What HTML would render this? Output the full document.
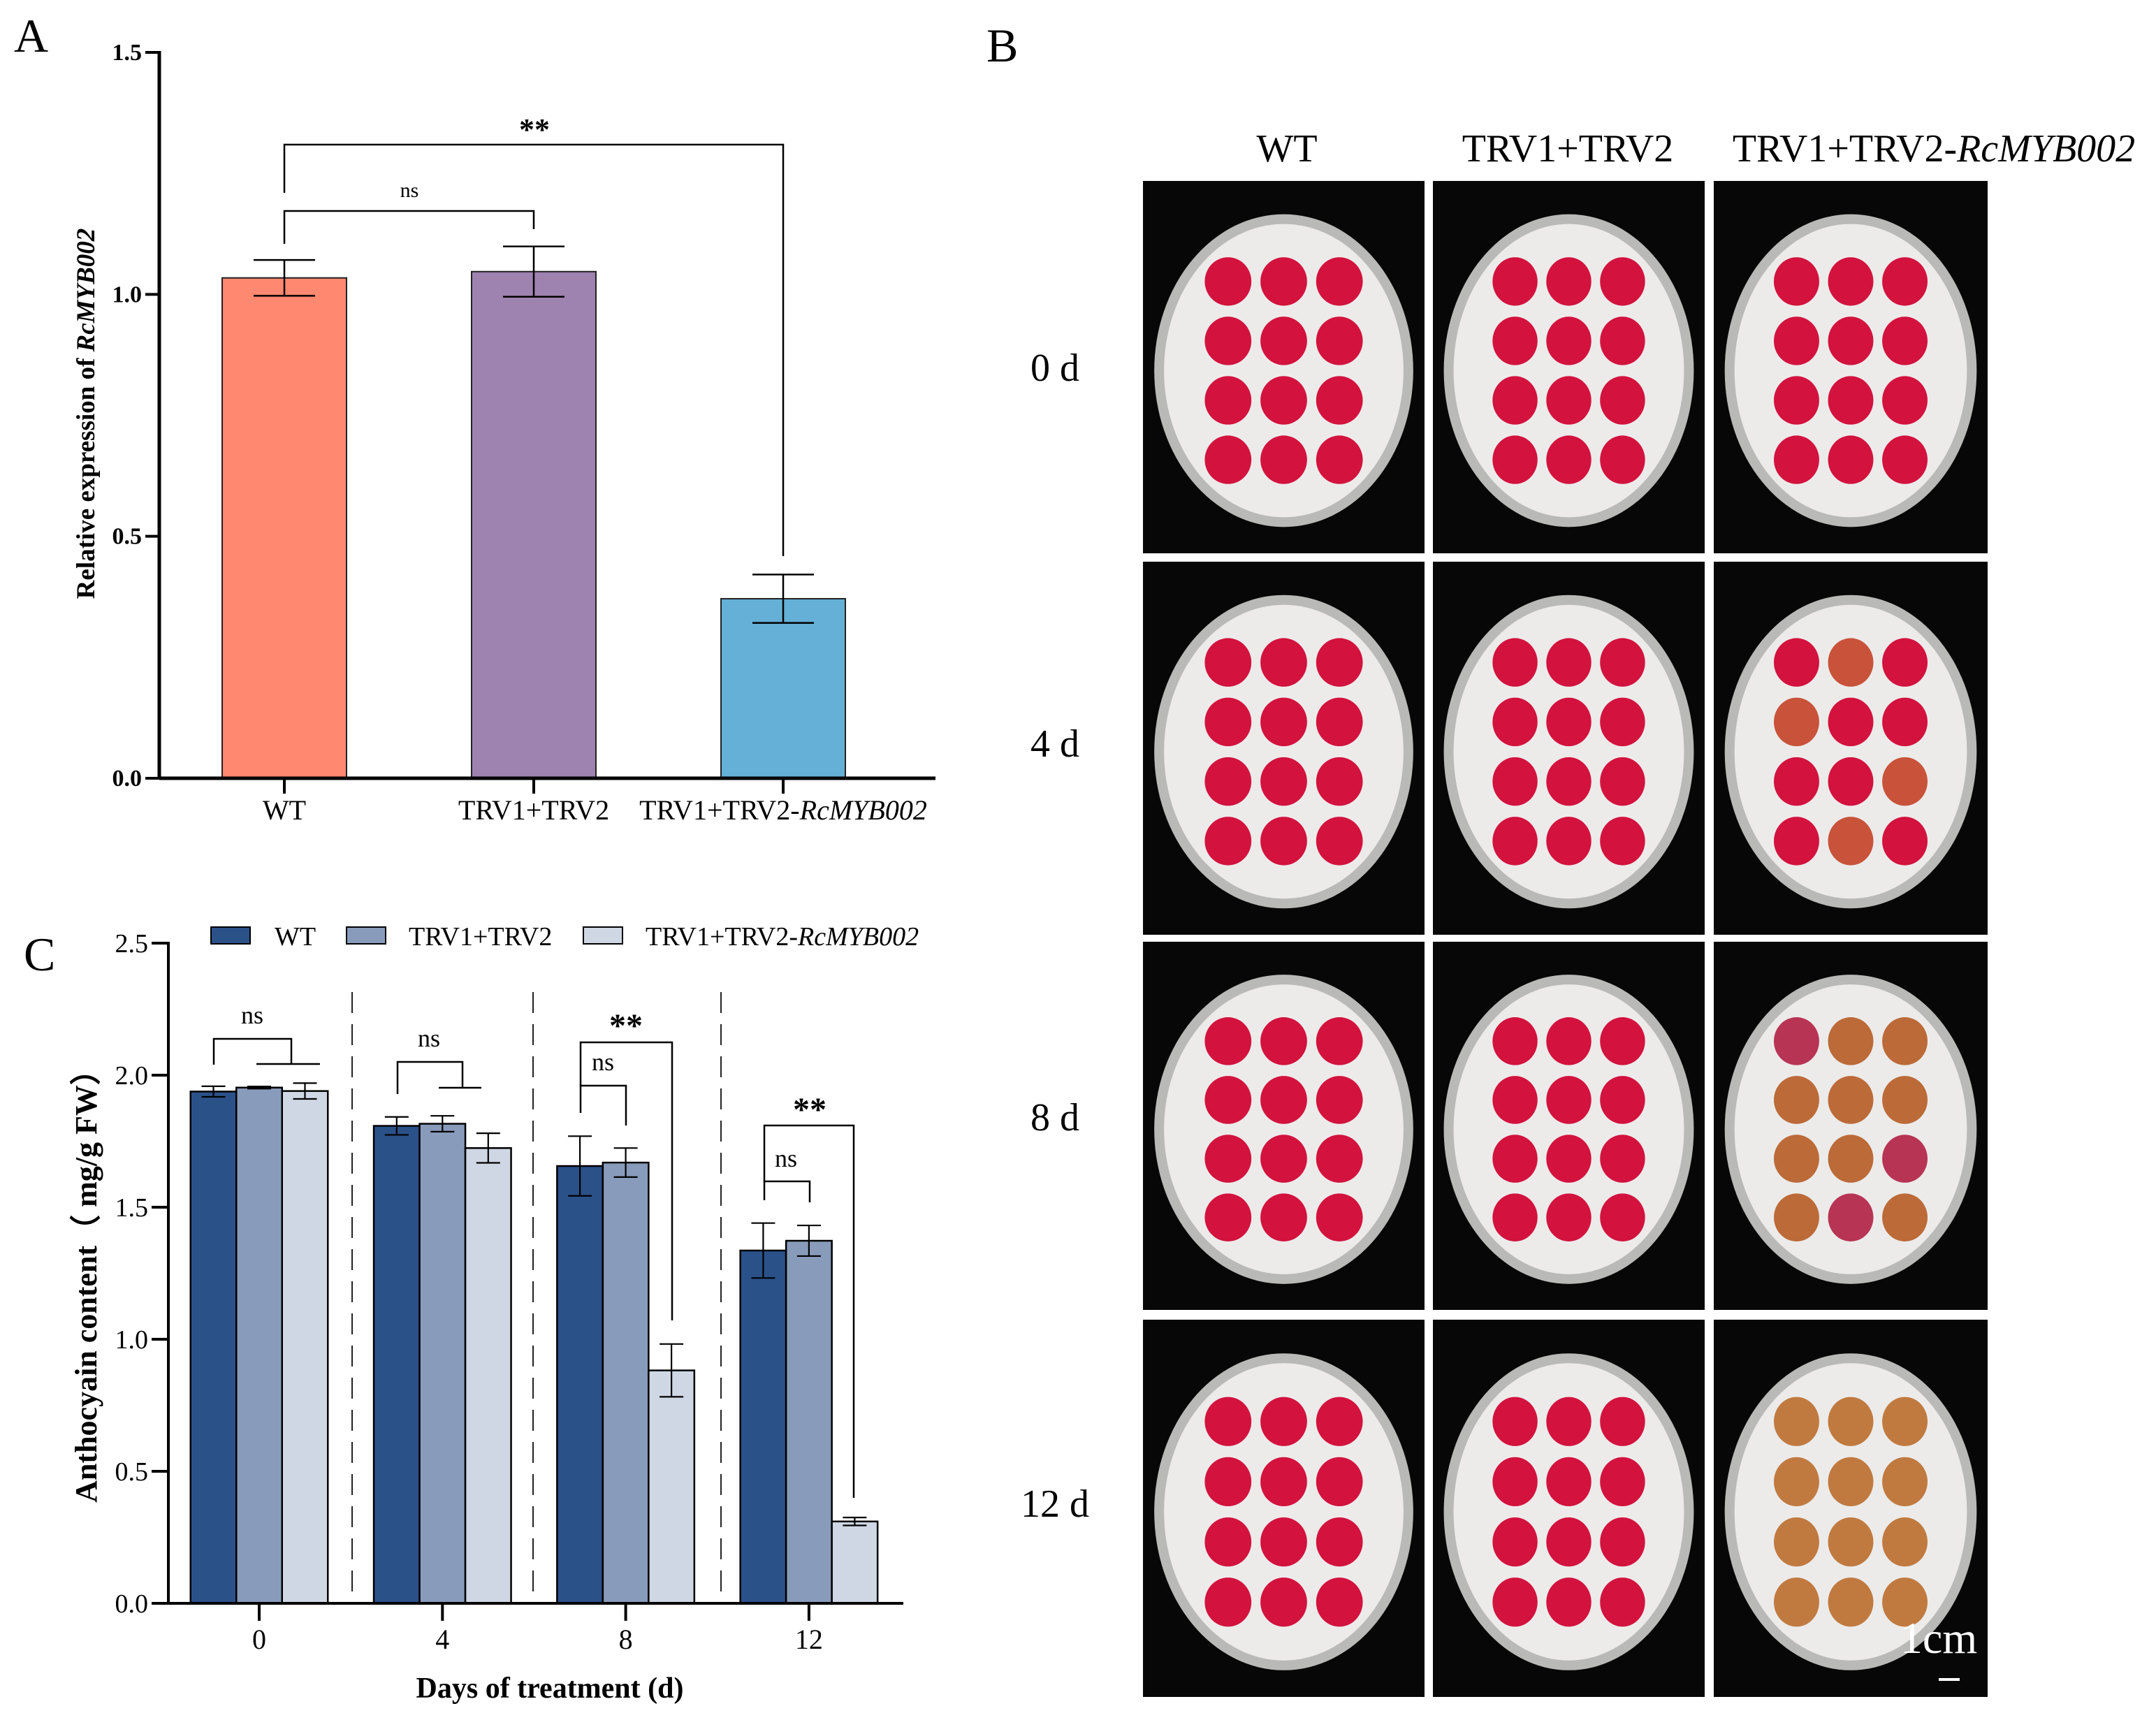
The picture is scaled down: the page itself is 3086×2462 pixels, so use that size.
<!DOCTYPE html>
<html><head><meta charset="utf-8"><style>
html,body{margin:0;padding:0;background:#fff}
svg{display:block}
text{font-family:"Liberation Serif",serif;fill:#000}
</style></head><body>
<svg id="fig" width="3086" height="2462" viewBox="0 0 3086 2462" xmlns="http://www.w3.org/2000/svg">
<g id="pa"></g>
<g id="pc"></g>
<g id="pb"></g>
</svg>
<script>
// Panel A data
const aCategories = ["WT", "TRV1+TRV2", "TRV1+TRV2-"];
const aValues = [1.034, 1.047, 0.371];
const aErrors = [0.037, 0.052, 0.05];
const aTicks = ["0.0", "0.5", "1.0", "1.5"];
// Panel C data
const cDays = ["0", "4", "8", "12"];
const cWT = [1.938, 1.808, 1.656, 1.336];
const cWTerr = [0.02, 0.034, 0.113, 0.104];
const cTRV = [1.953, 1.816, 1.669, 1.373];
const cTRVerr = [0.004, 0.03, 0.055, 0.058];
const cRc = [1.94, 1.724, 0.882, 0.31];
const cRcErr = [0.03, 0.056, 0.1, 0.015];
const cTicks = ["0.0", "0.5", "1.0", "1.5", "2.0", "2.5"];

const NS = "http://www.w3.org/2000/svg";
function mk(parent, tag, attrs, txt) {
  const e = document.createElementNS(NS, tag);
  for (const k in attrs) e.setAttribute(k, attrs[k]);
  if (txt !== undefined) e.textContent = txt;
  parent.appendChild(e);
  return e;
}
function line(p, x1, y1, x2, y2, w) {
  const e = mk(p, "line", {x1, y1, x2, y2, stroke: "#000", "stroke-width": w || 2.5});
  
  
  return e;
}
function poly(p, pts, w) {
  const e = mk(p, "polyline", {points: pts.map(q => q.join(",")).join(" "), fill: "none", stroke: "#000", "stroke-width": w || 2.5});
  
  
  return e;
}
function txt(p, x, y, s, attrs, name) {
  const e = mk(p, "text", Object.assign({x, y}, attrs || {}), s);
  
  
  return e;
}

// ---------- Panel A ----------
const pa = document.getElementById("pa");
const aY0 = 1114, aY15 = 75, aXL = 228, aXR = 1339;
const ay = v => aY0 - (aY0 - aY15) * v / 1.5;
const aCenters = [407, 764, 1121];
const aBW = 178;
const aColors = ["#FF8870", "#9E82B0", "#64B0D6"];
txt(pa, 20, 74, "A", {"font-size": 68}, "panel-a-label");
aValues.forEach((v, i) => {
  const r = mk(pa, "rect", {x: aCenters[i] - aBW / 2, y: ay(v), width: aBW, height: ay(0) - ay(v), fill: aColors[i], stroke: "#222", "stroke-width": 2});
  
  
  const c = aCenters[i];
  line(pa, c, ay(v + aErrors[i]), c, ay(v - aErrors[i]), 2.5);
  line(pa, c - 44, ay(v + aErrors[i]), c + 44, ay(v + aErrors[i]), 2.5);
  line(pa, c - 44, ay(v - aErrors[i]), c + 44, ay(v - aErrors[i]), 2.5);
});
line(pa, aXL, ay(1.5) - 2, aXL, aY0 + 2, 5);
line(pa, aXL, aY0, aXR, aY0, 5);
aTicks.forEach((t, i) => {
  const v = i * 0.5;
  line(pa, 208, ay(v), aXL, ay(v), 4);
  txt(pa, 203, ay(v) + 11, t, {"font-size": 34, "font-weight": "bold", "text-anchor": "end"}, "y-tick-label");
});
aCategories.forEach((c, i) => {
  line(pa, aCenters[i], aY0, aCenters[i], aY0 + 22, 4);
});
txt(pa, 407, 1173, "WT", {"font-size": 40, "text-anchor": "middle"}, "x-tick-label");
txt(pa, 764, 1173, "TRV1+TRV2", {"font-size": 40, "text-anchor": "middle"}, "x-tick-label");
const xl3 = txt(pa, 1121, 1173, "", {"font-size": 40, "text-anchor": "middle"}, "x-tick-label");
mk(xl3, "tspan", {}, aCategories[2]);
mk(xl3, "tspan", {"font-style": "italic"}, "RcMYB002");
const ayl = txt(pa, 0, 0, "", {"font-size": 37, "font-weight": "bold", "text-anchor": "middle", transform: "translate(135,592) rotate(-90)"}, "y-axis-title");
mk(ayl, "tspan", {}, "Relative expression of ");
mk(ayl, "tspan", {"font-style": "italic"}, "RcMYB002");
poly(pa, [[407, 276], [407, 207], [1121, 207], [1121, 796]]);
poly(pa, [[407, 349], [407, 302], [764, 302], [764, 328]]);
txt(pa, 765, 200, "**", {"font-size": 44, "font-weight": "bold", "text-anchor": "middle"}, "significance-star");
txt(pa, 586, 282, "ns", {"font-size": 30, "text-anchor": "middle"}, "significance-ns");

// ---------- Panel C ----------
const pc = document.getElementById("pc");
const cY0 = 2295, cY25 = 1350, cXL = 241, cXR = 1293;
const cy = v => cY0 - (cY0 - cY25) * v / 2.5;
const gx = i => 371 + i * 262.3;
const cBW = 65.5;
const series = [[cWT, cWTerr, "#2B5189"], [cTRV, cTRVerr, "#889BBB"], [cRc, cRcErr, "#CFD7E4"]];
txt(pc, 34, 1389, "C", {"font-size": 68}, "panel-c-label");
cDays.forEach((d, g) => {
  series.forEach((s, k) => {
    const v = s[0][g], e = s[1][g];
    const cx = gx(g) + (k - 1) * cBW;
    const r = mk(pc, "rect", {x: cx - cBW / 2, y: cy(v), width: cBW, height: cy(0) - cy(v), fill: s[2], stroke: "#000", "stroke-width": 2.5});
    
    
    line(pc, cx, cy(v + e), cx, cy(v - e), 2.2);
    line(pc, cx - 17, cy(v + e), cx + 17, cy(v + e), 2.2);
    line(pc, cx - 17, cy(v - e), cx + 17, cy(v - e), 2.2);
  });
  line(pc, gx(g), cY0, gx(g), cY0 + 25, 4);
  txt(pc, gx(g), 2360, d, {"font-size": 40, "text-anchor": "middle"}, "x-tick-label");
});
[504, 763, 1032].forEach(x => {
  const l = mk(pc, "line", {x1: x, y1: 1420, x2: x, y2: 2290, stroke: "#222", "stroke-width": 2, "stroke-dasharray": "30 16"});
  
  
});
line(pc, cXL, cy(2.5) - 2, cXL, cY0 + 2, 4);
line(pc, cXL, cY0, cXR, cY0, 4);
cTicks.forEach((t, i) => {
  const v = i * 0.5;
  line(pc, 217, cy(v), cXL, cy(v), 4);
  txt(pc, 212, cy(v) + 13, t, {"font-size": 38, "text-anchor": "end"}, "y-tick-label");
});
const cyl = txt(pc, 0, 0, "Anthocyain content（ mg/g FW）", {"font-size": 44, "font-weight": "bold", "text-anchor": "middle", transform: "translate(138,1830) rotate(-90)", "font-family": "Liberation Serif, Noto Serif CJK SC, serif"}, "y-axis-title");
txt(pc, 787, 2430, "Days of treatment (d)", {"font-size": 42, "font-weight": "bold", "text-anchor": "middle"}, "x-axis-title");
// legend
const lg = mk(pc, "g", {});


[[302, 393, "WT", "#2B5189"], [496, 585, "TRV1+TRV2", "#889BBB"], [835, 924, "TRV1+TRV2-", "#CFD7E4"]].forEach((L, i) => {
  const r = mk(lg, "rect", {x: L[0], y: 1327, width: 56, height: 24, fill: L[3], stroke: "#000", "stroke-width": 2});
  
  
  const t = txt(lg, L[1], 1353, "", {"font-size": 38}, "legend-entry");
  mk(t, "tspan", {}, L[2]);
  if (i === 2) mk(t, "tspan", {"font-style": "italic"}, "RcMYB002");
});
// brackets
poly(pc, [[306, 1524], [306, 1487], [417, 1487], [417, 1523]]);
line(pc, 367, 1523, 458, 1523);
txt(pc, 361, 1465, "ns", {"font-size": 36, "text-anchor": "middle"}, "significance-ns");
poly(pc, [[569, 1566], [569, 1520], [662, 1520], [662, 1557]]);
line(pc, 628, 1557, 689, 1557);
txt(pc, 614, 1498, "ns", {"font-size": 36, "text-anchor": "middle"}, "significance-ns");
poly(pc, [[831, 1593], [831, 1554], [896, 1554], [896, 1611]]);
poly(pc, [[831, 1554], [831, 1492], [962, 1492], [962, 1890]]);
txt(pc, 896, 1484, "**", {"font-size": 48, "font-weight": "bold", "text-anchor": "middle"}, "significance-star");
txt(pc, 863, 1532, "ns", {"font-size": 36, "text-anchor": "middle"}, "significance-ns");
poly(pc, [[1094, 1718], [1094, 1691], [1159, 1691], [1159, 1721]]);
poly(pc, [[1094, 1691], [1094, 1611], [1222, 1611], [1222, 2144]]);
txt(pc, 1159, 1604, "**", {"font-size": 48, "font-weight": "bold", "text-anchor": "middle"}, "significance-star");
txt(pc, 1125, 1670, "ns", {"font-size": 36, "text-anchor": "middle"}, "significance-ns");

// ---------- Panel B ----------
const pb = document.getElementById("pb");
txt(pb, 1412, 88, "B", {"font-size": 68}, "panel-b-label");
const cols = [[1636, 2039], [2051, 2440], [2453, 2845]];
const rows = [[259, 792], [804, 1338], [1348, 1875], [1889, 2429]];
const heads = ["WT", "TRV1+TRV2", "TRV1+TRV2-"];
const hx = [1842, 2244, 2768];
heads.forEach((h, i) => {
  const t = txt(pb, hx[i], 231, "", {"font-size": 56, "text-anchor": "middle"}, "column-header");
  mk(t, "tspan", {}, h);
  if (i === 2) mk(t, "tspan", {"font-style": "italic"}, "RcMYB002");
});
const rl = ["0 d", "4 d", "8 d", "12 d"];
const ry = [545, 1083, 1618, 2171];
rl.forEach((r, i) => txt(pb, 1510, ry[i], r, {"font-size": 56, "text-anchor": "middle"}, "row-label"));
rows.forEach((R, ri) => {
  cols.forEach((C, ci) => {
    const g = mk(pb, "g", {});
    
    
    mk(g, "rect", {x: C[0], y: R[0], width: C[1] - C[0], height: R[1] - R[0], fill: "#070707"});
    const cx = (C[0] + C[1]) / 2, cyy = (R[0] + R[1]) / 2 + 5;
    const rx = (C[1] - C[0]) * 0.46, ryy = (R[1] - R[0]) * 0.42;
    mk(g, "ellipse", {cx, cy: cyy, rx, ry: ryy, fill: "#b9b9b7"});
    mk(g, "ellipse", {cx, cy: cyy, rx: rx - 14, ry: ryy - 14, fill: "#ecebea"});
    for (let a = 0; a < 4; a++) for (let b = 0; b < 3; b++) {
      let col = "#D3123E";
      if (ci === 2 && ri === 1 && (a + b) % 3 === 1) col = "#C8533A";
      if (ci === 2 && ri === 2) col = (a + b) % 4 === 0 ? "#B83454" : "#BC6A38";
      if (ci === 2 && ri === 3) col = "#C07A40";
      mk(g, "ellipse", {cx: cx + (b - 1) * rx * 0.43, cy: cyy + (a - 1.5) * ryy * 0.38, rx: rx * 0.18, ry: ryy * 0.155, fill: col});
    }
  });
});
txt(pb, 2775, 2366, "1cm", {"font-size": 64, "text-anchor": "middle", fill: "#fff", style: "fill:#fff"}, "scale-bar-label");
const sb = mk(pb, "line", {x1: 2775, y1: 2404, x2: 2805, y2: 2404, stroke: "#fff", "stroke-width": 4});


</script>
</body></html>
